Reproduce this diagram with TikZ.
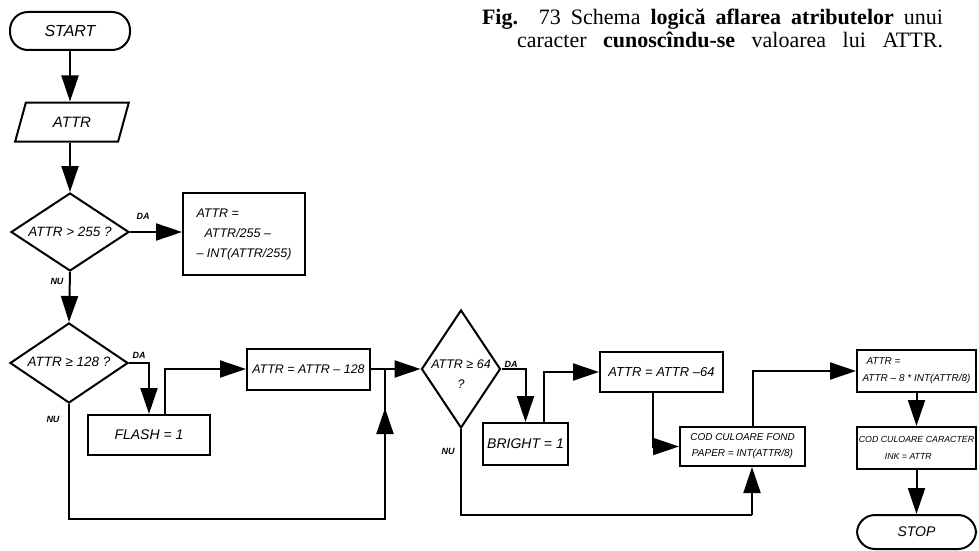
\documentclass[tikz,border=0pt]{standalone}
\usepackage{fontspec}
\newfontfamily\handfont{Liberation Sans}
\newfontfamily\capfont{Liberation Serif}
\newcommand\hfs[2]{\handfont\itshape\fontsize{#1}{#2}\selectfont}
\usetikzlibrary{arrows.meta,shapes.geometric,calc}
\begin{document}
\begin{tikzpicture}[x=1pt,y=-1pt,
  line width=2pt,
  box/.style={draw, rectangle, inner sep=2pt, line width=2pt},
  term/.style={draw, rectangle, rounded corners=18pt, line width=2pt, font=\hfs{16}{18}},
  dia/.style={draw, diamond, inner sep=0pt, line width=2pt},
  arr/.style={-{Triangle[length=26pt,width=17pt]}},
  lbl/.style={font=\hfs{9}{10}\bfseries},
]
\useasboundingbox (0,0) rectangle (979,551);

% caption
\node[anchor=base east, inner sep=0pt, font=\capfont\fontsize{22}{24}\selectfont] (cap1) at (944,25)
  {\makebox[461pt][s]{\textbf{Fig.} 73 Schema \textbf{logică} \textbf{aflarea} \textbf{atributelor} unui}};
\node[anchor=base east, inner sep=0pt, font=\capfont\fontsize{22}{24}\selectfont] (cap2) at (944,48)
  {\makebox[426pt][s]{caracter \textbf{cunoscîndu-se} valoarea lui ATTR.}};

% nodes
\node[term, minimum width=120pt, minimum height=38pt] (start) at (70,31) {START};
\node[draw, trapezium, trapezium left angle=73, trapezium right angle=107, trapezium stretches=true,
  minimum width=114pt, minimum height=39pt, font=\hfs{15}{17}] (inp) at (72,122) {ATTR};
\node[dia, minimum width=118pt, minimum height=78pt] (d1) at (70,232) {};
\node[font=\hfs{13.5}{15}] (t1) at (70,232) {ATTR > 255 ?};
\node[box, minimum width=122pt, minimum height=82pt, align=left, font=\hfs{12.5}{20}] (b1) at (244,234)
  {ATTR =\\\hspace{8pt}ATTR/255 –\\– INT(ATTR/255)};

\node[dia, minimum width=118pt, minimum height=80pt] (d2) at (69,363) {};
\node[font=\hfs{13.5}{15}] (t2) at (69,362) {ATTR ≥ 128 ?};
\node[box, minimum width=122pt, minimum height=40pt, font=\hfs{14}{16}] (flash) at (149,435) {FLASH = 1};
\node[box, minimum width=123pt, minimum height=41pt, font=\hfs{12.5}{14}] (b128) at (308.5,369) {ATTR = ATTR – 128};

\node[dia, minimum width=79pt, minimum height=118pt] (d3) at (461,369) {};
\node[font=\hfs{12.5}{20}, align=center] (t3) at (461,374) {ATTR ≥ 64\\?};
\node[box, minimum width=85pt, minimum height=42pt, font=\hfs{14}{16}] (bright) at (525.5,444) {BRIGHT = 1};
\node[box, minimum width=123pt, minimum height=40pt, font=\hfs{13}{15}] (b64) at (661.5,372) {ATTR = ATTR –64};
\node[box, minimum width=125pt, minimum height=39pt, align=center, font=\hfs{10}{16}] (fond) at (742.5,446.5)
  {COD CULOARE FOND\\PAPER = INT(ATTR/8)};

\node[box, minimum width=119pt, minimum height=42pt, align=left, inner sep=1pt, font=\hfs{10}{17}] (b8) at (916.5,371)
  {\hspace{4pt}ATTR =\\ATTR – 8 * INT(ATTR/8)};
\node[box, minimum width=119pt, minimum height=42pt, align=left, inner sep=1pt, font=\hfs{8.8}{17}] (car) at (916.5,448)
  {COD CULOARE CARACTER\\\hspace{26pt}INK = ATTR};
\node[term, minimum width=119pt, minimum height=34pt, font=\hfs{14}{16}] (stop) at (916.5,532) {STOP};

% labels
\node[lbl] (da1) at (143,216) {DA};
\node[lbl] (nu1) at (57,281) {NU};
\node[lbl] (da2) at (139,355) {DA};
\node[lbl] (nu2) at (53,419) {NU};
\node[lbl] (da3) at (511,364) {DA};
\node[lbl] (nu3) at (448,451) {NU};

% connectors
\draw[arr] (start.south) -- (start.south |- inp.north);
\draw[arr] (d1.north |- inp.south) -- (d1.north);
\draw[arr] (d1.east) -- (d1.east -| b1.west);
\draw[arr] (d1.south) -- (d2.north);
\draw[arr] (d2.east) -| (flash.north);
\coordinate (f1) at ($(flash.north)+(16,0)$);
\draw[arr] (f1) |- (b128.west);
\draw[arr] (b128.east) -- (d3.west);
\coordinate (j1) at (385,519);
\coordinate (m1) at (j1 |- b128.east);
\coordinate (a1) at (385,408);
\draw (d2.south) |- (j1) -- (m1);
\draw[arr] (j1) -- (a1);

\draw[arr] (d3.east) -| (bright.north);
\coordinate (f2) at ($(bright.north)+(18.5,0)$);
\draw[arr] (f2) |- (b64.west);
\coordinate (f3) at ($(b64.south)+(-8.5,0)$);
\draw[arr] (f3) |- (fond.west);
\coordinate (j2) at (752,515);
\draw (d3.south) |- (j2);
\draw[arr] (j2) -- (j2 |- fond.south);
\coordinate (f4) at ($(fond.north)+(10.5,0)$);
\draw[arr] (f4) |- (b8.west);
\draw[arr] (b8.south) -- (car.north);
\draw[arr] (car.south) -- (stop.north);
\end{tikzpicture}
\end{document}
